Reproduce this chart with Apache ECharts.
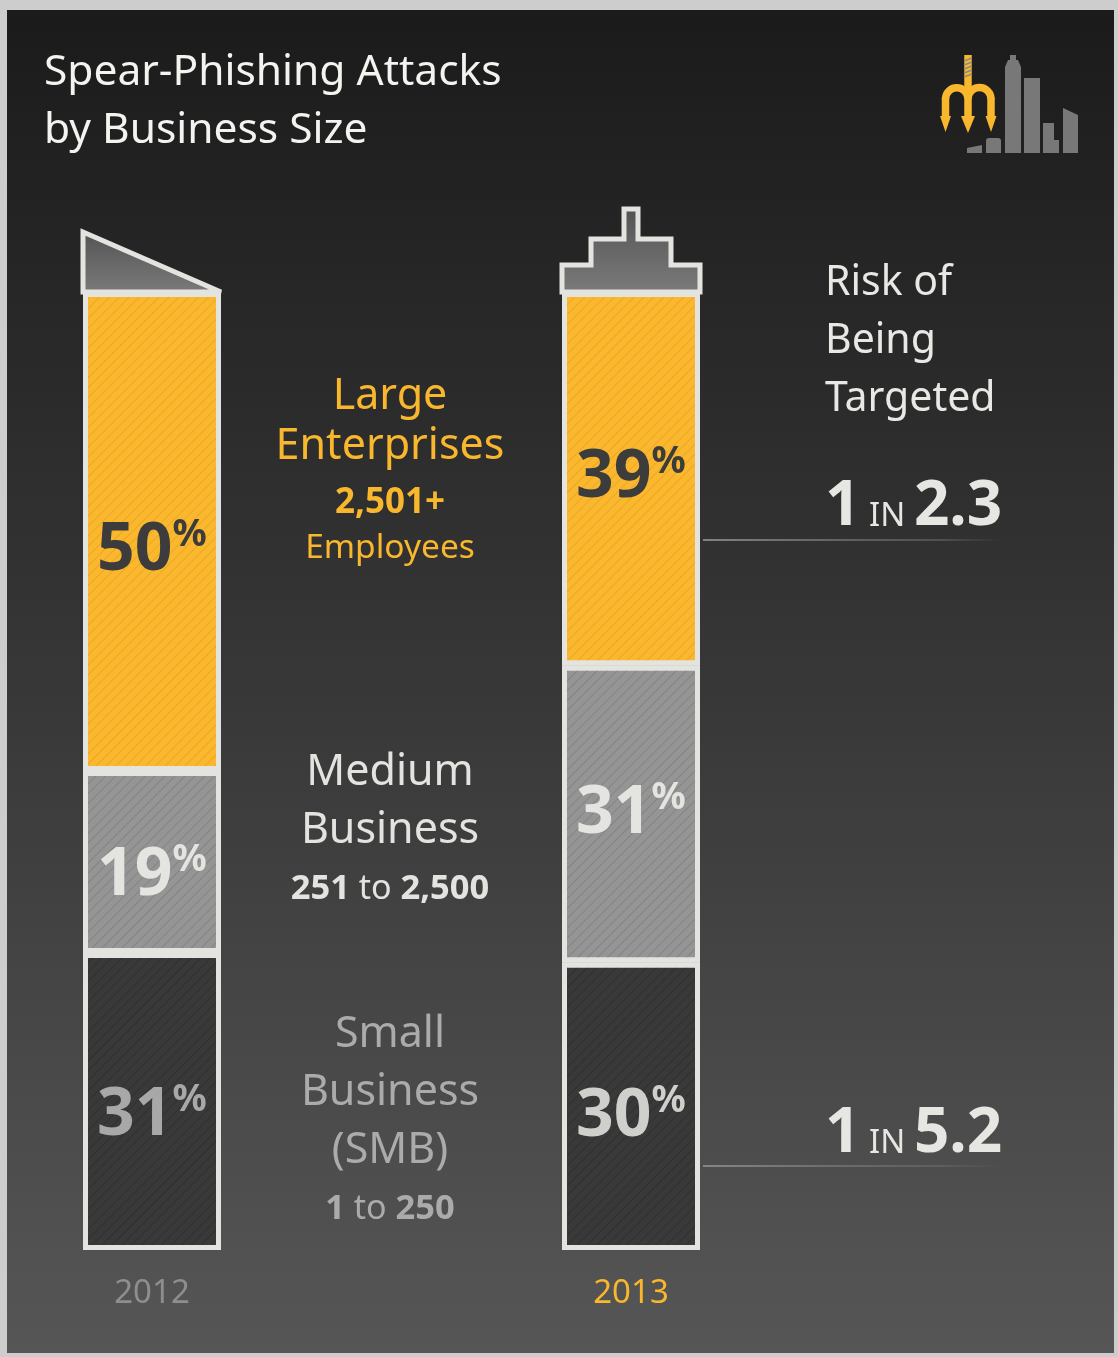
<!DOCTYPE html>
<html>
<head>
<meta charset="utf-8">
<script src="https://cdn.jsdelivr.net/npm/echarts@6/dist/echarts.min.js"></script>
<style>
html,body{margin:0;padding:0;background:#cdcdcd;}
#chart{width:1118px;height:1357px;}
</style>
</head>
<body>
<div id="chart"></div>
<script>
// ---- data ----
const years = ['2012', '2013'];
const largeShare = [50, 39];
const mediumShare = [19, 31];
const smallShare = [31, 30];
const segmentNames = [['Large', 'Enterprises'], ['Medium', 'Business'], ['Small', 'Business', '(SMB)']];
const employeeRanges = [['2,501+', 'Employees'], ['251', '2,500'], ['1', '250']];
const riskOdds = ['2.3', '5.2'];
const capShapes = ['roof', 'tower'];

// ---- styles ----
const FONT = 'Noto Sans';
const YELLOW = '#f8b72d';
const EDGE = '#e3e3df';
const BAR_W = 138;

const chart = echarts.init(document.getElementById('chart'), null, {renderer: 'canvas'});

function decal(color) {
  return {
    symbol: 'rect', symbolSize: 1,
    dashArrayX: [1, 0], dashArrayY: [1, 6],
    rotation: -Math.PI / 4, color: color
  };
}
function pctLabel(col, dy) {
  return {
    show: true, position: 'inside', offset: [0, dy],
    formatter: p => '{n|' + p.value + '}{p|%}',
    rich: {
      n: {fontFamily: FONT, fontWeight: 'bold', fontSize: 66, lineHeight: 70, color: col},
      p: {fontFamily: FONT, fontWeight: 'bold', fontSize: 38, lineHeight: 44, verticalAlign: 'top', color: col}
    }
  };
}
function segSeries(name, values, fill, dec, labelColors, labelDy) {
  return {
    type: 'bar', name: name, stack: 'share', barWidth: BAR_W, clip: false,
    itemStyle: {color: fill, borderColor: EDGE, borderWidth: 5, decal: decal(dec)},
    data: values.map((v, i) => ({value: v, label: pctLabel(labelColors[i], labelDy[i])})),
    z: 3
  };
}

function nameText(lines, range, idx) {
  let s = lines.map(l => '{a|' + l + '}').join('\n');
  if (idx === 0) s += '\n{e|' + range[0] + '}\n{c|' + range[1] + '}';
  else s += '\n{b|' + range[0] + '}{t| to }{b|' + range[1] + '}';
  return s;
}
function tok(o, col) { o.fill = col; o.color = col; o.fontFamily = FONT; return o; }
function nameRich(col, lh) {
  return {
    a: tok({fontSize: 43, lineHeight: lh}, col),
    e: tok({fontWeight: 'bold', fontSize: 35, lineHeight: 62}, col),
    b: tok({fontWeight: 'bold', fontSize: 34.5, lineHeight: 58}, col),
    t: tok({fontSize: 34, lineHeight: 58}, col),
    c: tok({fontSize: 33.5, lineHeight: 28}, col)
  };
}
function oddsText(v) { return '{o|1}{i| IN }{o|' + v + '}'; }
const oddsRich = {
  o: tok({fontWeight: 'bold', fontSize: 62, lineHeight: 64}, '#e6e6e2'),
  i: tok({fontSize: 33, verticalAlign: 'bottom', padding: [0, 0, 6, 0]}, '#e6e6e2')
};
function fadeRect(y) {
  return {
    type: 'rect', shape: {x: 703, y: y, width: 300, height: 2}, z: 50,
    style: {fill: {type: 'linear', x: 0, y: 0, x2: 1, y2: 0,
      colorStops: [{offset: 0, color: 'rgba(140,140,140,0.9)'}, {offset: 0.8, color: 'rgba(110,110,110,0.5)'}, {offset: 1, color: 'rgba(100,100,100,0)'}]}}
  };
}

const logo = [
  // buildings
  {type: 'polygon', shape: {points: [[967,148],[982,145],[982,153],[967,153]]}, style: {fill: '#787878'}},
  {type: 'rect', shape: {x: 986, y: 138, width: 15, height: 15, r: [3,3,0,0]}, style: {fill: '#787878'}},
  {type: 'polygon', shape: {points: [[1005,153],[1005,67],[1008,60],[1010,60],[1010,55],[1016,55],[1016,60],[1018,60],[1021,67],[1021,153]]}, style: {fill: '#787878'}},
  {type: 'rect', shape: {x: 1024, y: 78, width: 16, height: 75}, style: {fill: '#787878'}},
  {type: 'polygon', shape: {points: [[1043,153],[1043,123],[1054,123],[1054,140],[1059,140],[1059,153]]}, style: {fill: '#787878'}},
  {type: 'polygon', shape: {points: [[1063,153],[1063,108],[1078,115],[1078,153]]}, style: {fill: '#787878'}},
  // trident
  {type: 'arc', shape: {cx: 956.75, cy: 99, r: 11.25, startAngle: Math.PI, endAngle: 2 * Math.PI, clockwise: true}, style: {stroke: YELLOW, lineWidth: 7.5, fill: null}},
  {type: 'arc', shape: {cx: 979.5, cy: 99, r: 11.5, startAngle: Math.PI, endAngle: 2 * Math.PI, clockwise: true}, style: {stroke: YELLOW, lineWidth: 7.5, fill: null}},
  {type: 'line', shape: {x1: 945.5, y1: 98, x2: 945.5, y2: 118}, style: {stroke: YELLOW, lineWidth: 7.5}},
  {type: 'line', shape: {x1: 968, y1: 55, x2: 968, y2: 118}, style: {stroke: YELLOW, lineWidth: 7.5}},
  {type: 'line', shape: {x1: 991, y1: 98, x2: 991, y2: 118}, style: {stroke: YELLOW, lineWidth: 7.5}},
  {type: 'polygon', shape: {points: [[940,116],[951,116],[945.5,132]]}, style: {fill: YELLOW}},
  {type: 'polygon', shape: {points: [[961,116],[975,116],[968,133]]}, style: {fill: YELLOW}},
  {type: 'polygon', shape: {points: [[985.5,116],[996.5,116],[991,132]]}, style: {fill: YELLOW}},
  {type: 'line', shape: {x1: 964, y1: 61, x2: 972, y2: 58}, style: {stroke: '#8a8a8a', lineWidth: 1.5}},
  {type: 'line', shape: {x1: 964, y1: 65, x2: 972, y2: 62}, style: {stroke: '#8a8a8a', lineWidth: 1.5}},
  {type: 'line', shape: {x1: 964, y1: 69, x2: 972, y2: 66}, style: {stroke: '#8a8a8a', lineWidth: 1.5}},
  {type: 'line', shape: {x1: 964, y1: 73, x2: 972, y2: 70}, style: {stroke: '#8a8a8a', lineWidth: 1.5}},
  {type: 'line', shape: {x1: 964, y1: 77, x2: 972, y2: 74}, style: {stroke: '#8a8a8a', lineWidth: 1.5}}
].map(e => Object.assign(e, {z: 50}));

const option = {
  animation: false,
  backgroundColor: '#cdcdcd',
  grid: {left: 152, right: 487, top: 292, bottom: 107, containLabel: false},
  xAxis: {
    type: 'category', boundaryGap: false,
    data: years.map((y, i) => ({value: y, textStyle: {color: i === 0 ? '#8e8e8e' : YELLOW}})),
    axisLine: {show: false}, axisTick: {show: false}, splitLine: {show: false},
    axisLabel: {fontFamily: FONT, fontSize: 33, lineHeight: 40, margin: 24}
  },
  yAxis: {type: 'value', min: 0, max: 100, show: false},
  graphic: [
    {type: 'rect', z: -10, shape: {x: 7, y: 10, width: 1107, height: 1343},
      style: {fill: {type: 'linear', x: 0, y: 0, x2: 0, y2: 1,
        colorStops: [{offset: 0, color: '#1b1b1b'}, {offset: 0.45, color: '#343434'}, {offset: 1, color: '#565656'}]}}},
    {type: 'text', z: 50, x: 44, y: 44, style: {text: 'Spear-Phishing Attacks\nby Business Size', fontFamily: FONT, fontSize: 42.5, lineHeight: 58, fill: '#f3f3ef'}},
    {type: 'text', z: 50, x: 390, y: 372, style: {text: nameText(segmentNames[0], employeeRanges[0], 0), align: 'center', rich: nameRich(YELLOW, 50)}},
    {type: 'text', z: 50, x: 390, y: 744, style: {text: nameText(segmentNames[1], employeeRanges[1], 1), align: 'center', rich: nameRich('#e3e3df', 58)}},
    {type: 'text', z: 50, x: 390, y: 1006, style: {text: nameText(segmentNames[2], employeeRanges[2], 2), align: 'center', rich: nameRich('#ababab', 58)}},
    {type: 'text', z: 50, x: 825, y: 254, style: {text: 'Risk of\nBeing\nTargeted', fontFamily: FONT, fontSize: 41, lineHeight: 58, fill: '#e8e8e4'}},
    {type: 'text', z: 50, x: 825, y: 475, style: {text: oddsText(riskOdds[0]), rich: oddsRich}},
    {type: 'text', z: 50, x: 825, y: 1102, style: {text: oddsText(riskOdds[1]), rich: oddsRich}},
    fadeRect(539),
    fadeRect(1165)
  ].concat(logo),
  series: [
    segSeries('Small Business', smallShare, '#393939', 'rgba(0,0,0,0.16)', ['#a8a8a8', '#cfcfcb'], [15, 11]),
    segSeries('Medium Business', mediumShare, '#959595', 'rgba(60,60,60,0.2)', ['#e4e4e0', '#e4e4e0'], [14, 0]),
    segSeries('Large Enterprises', largeShare, '#fbb82e', 'rgba(150,100,0,0.18)', ['#3c3c3c', '#3c3c3c'], [20, -1]),
    {
      type: 'custom', z: 5, clip: false,
      data: years.map((y, i) => [i, 100]),
      renderItem: function (params, api) {
        const top = api.coord([api.value(0), api.value(1)]);
        const cx = top[0], ty = top[1];
        const h = BAR_W / 2;
        let pts;
        if (capShapes[api.value(0)] === 'roof') {
          pts = [[cx - h, ty - 60], [cx + h, ty], [cx - h, ty]];
        } else {
          pts = [[cx - h, ty], [cx - h, ty - 27], [cx - 40, ty - 27], [cx - 40, ty - 53], [cx - 7, ty - 53], [cx - 7, ty - 83],
                 [cx + 7, ty - 83], [cx + 7, ty - 53], [cx + 40, ty - 53], [cx + 40, ty - 27], [cx + h, ty - 27], [cx + h, ty]];
        }
        return {
          type: 'polygon', shape: {points: pts},
          style: {
            fill: {type: 'linear', x: 0, y: 0, x2: 0, y2: 1, colorStops: [{offset: 0, color: '#535353'}, {offset: 1, color: '#7b7b7b'}]},
            stroke: EDGE, lineWidth: 5, lineJoin: 'miter', miterLimit: 2
          }
        };
      }
    }
  ]
};
chart.setOption(option);
</script>
</body>
</html>
